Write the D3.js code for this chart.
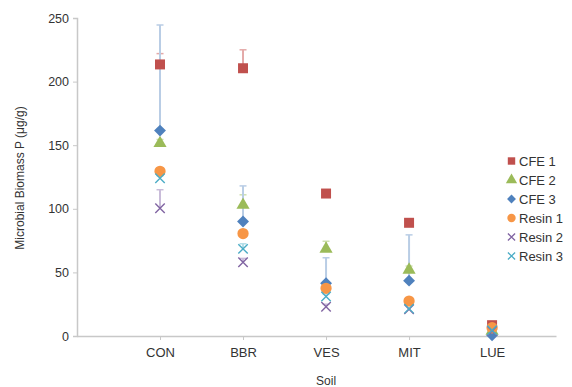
<!DOCTYPE html>
<html><head><meta charset="utf-8">
<script src="https://cdn.jsdelivr.net/npm/d3@7"></script>
<style>body{margin:0;background:#fff}svg{display:block}text{font-family:"Liberation Sans",Arial,sans-serif;fill:#333}</style>
</head><body><svg id="c" width="572" height="387"></svg>
<script>
const categories = ["CON","BBR","VES","MIT","LUE"];
const seriesNames = ["CFE 1","CFE 2","CFE 3","Resin 1","Resin 2","Resin 3"];
const cfe1   = [213.5, 210.5, 112, 89, 8.5];
const cfe2   = [151.5, 103, 68.5, 52, 4];
const cfe3   = [161.5, 90, 41.5, 43.5, 0.5];
const resin1 = [129.5, 80.5, 37.5, 27.5, 6.5];
const resin2 = [100.5, 58, 23, 21, 4];
const resin3 = [124, 68.5, 31, 21.5, 4.5];
const cfe1Err   = [8.5, 14.5, 0, 0, 0];
const cfe2Err   = [3, 8, 6, 3, 0];
const cfe3Err   = [83, 28, 20, 36, 0];
const resin1Err = [0, 0, 0, 0, 0];
const resin2Err = [14.5, 3, 2, 0, 0];
const resin3Err = [2, 4, 2, 0, 0];
const yTicks = [0,50,100,150,200,250];

const colors = ["#c0504d","#9bbb59","#4f81bd","#f79646","#8064a2","#4bacc6"];
const errColors = ["#e4a9a8","#cfe0b0","#b9cde5","#fbd0ac","#c9bcd9","#b3dde8"];
const symbols = [d3.symbolSquare, d3.symbolTriangle, d3.symbolDiamond2, d3.symbolCircle, d3.symbolX, d3.symbolX];
const values = [cfe1,cfe2,cfe3,resin1,resin2,resin3];
const errs = [cfe1Err,cfe2Err,cfe3Err,resin1Err,resin2Err,resin3Err];

const svg = d3.select("#c");
const x = d3.scaleLinear().domain([0,5.77]).range([77,556]);
const y = d3.scaleLinear().domain([0,250]).range([336,18]);

// axes
const yAx = svg.append("g").attr("transform","translate(77,0)").call(d3.axisLeft(y).tickValues(yTicks).tickSize(4).tickPadding(4));
yAx.select(".domain").attr("stroke","#c8c8c8").attr("stroke-width",1.5);
yAx.selectAll(".tick line").attr("stroke","#c8c8c8");
yAx.selectAll(".tick text").attr("font-size",12.5).attr("fill","#333").style("font-family","Liberation Sans, Arial, sans-serif");

const xAx = svg.append("g").attr("transform","translate(0,336)").call(d3.axisBottom(x).tickValues([1,2,3,4,5]).tickFormat((d)=>categories[d-1]).tickSize(4).tickPadding(8).tickSizeOuter(0));
xAx.select(".domain").attr("stroke","#c8c8c8").attr("stroke-width",1.5);
xAx.selectAll(".tick line").attr("stroke","#c8c8c8");
xAx.selectAll(".tick text").attr("font-size",13).attr("fill","#333").style("font-family","Liberation Sans, Arial, sans-serif");

svg.append("text").attr("x",x(3)).attr("y",385).attr("text-anchor","middle").attr("font-size",12).text("Soil");
svg.append("text").attr("transform","translate(24,178) rotate(-90)").attr("text-anchor","middle").attr("font-size",12).text("Microbial Biomass P (μg/g)");

// error bars and markers
values.forEach((vals,s)=>{
  const g = svg.append("g");
  vals.forEach((v,i)=>{
    const e = errs[s][i];
    if(e>0){
      const cx = x(i+1);
      g.append("line").attr("x1",cx).attr("x2",cx).attr("y1",y(v)).attr("y2",y(v+e)).attr("stroke",errColors[s]).attr("stroke-width",2);
      g.append("line").attr("x1",cx-3.5).attr("x2",cx+3.5).attr("y1",y(v+e)).attr("y2",y(v+e)).attr("stroke",errColors[s]).attr("stroke-width",1.5);
    }
  });
});
values.forEach((vals,s)=>{
  const g = svg.append("g");
  vals.forEach((v,i)=>{
    const isX = s>=4;
    const p = g.append("path")
      .attr("transform",`translate(${x(i+1)},${y(v)})${s===5?" rotate(90)":""}`)
      .attr("d",d3.symbol().type(symbols[s]).size(isX?60:(s===2?90:(s===1?75:100)))());
    if(isX) p.attr("fill","none").attr("stroke",colors[s]).attr("stroke-width",1.4);
    else p.attr("fill",colors[s]);
  });
});

// legend
const lg = svg.append("g");
seriesNames.forEach((n,s)=>{
  const ly = 161 + s*19;
  const isX = s>=4;
  const p = lg.append("path").attr("transform",`translate(511.5,${ly})`)
    .attr("d",d3.symbol().type(symbols[s]).size(isX?35:(s===2?50:55))());
  if(isX) p.attr("fill","none").attr("stroke",colors[s]).attr("stroke-width",1.3);
  else p.attr("fill",colors[s]);
  lg.append("text").attr("x",519).attr("y",ly+4.5).attr("font-size",13).text(n);
});
</script></body></html>
